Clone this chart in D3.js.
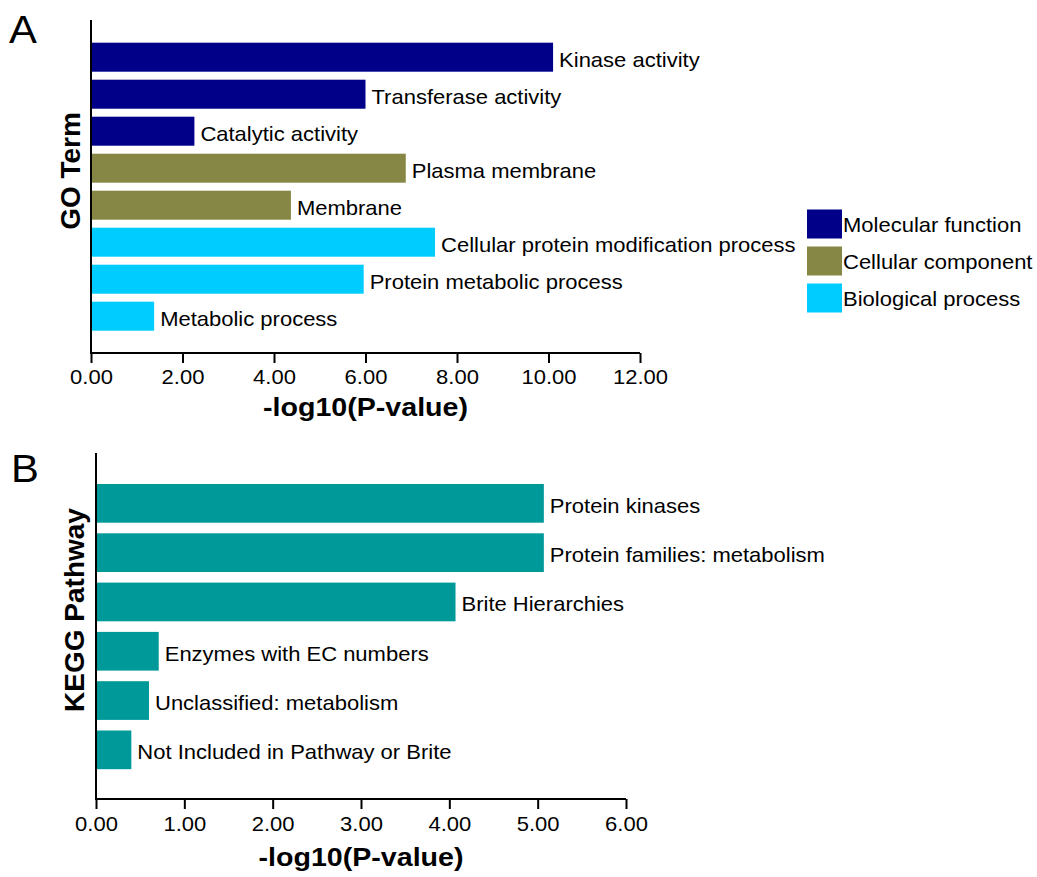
<!DOCTYPE html>
<html>
<head>
<meta charset="utf-8">
<script src="https://cdn.jsdelivr.net/npm/d3@7"></script>
<style>
  html, body { margin: 0; padding: 0; background: #fff; }
  svg { display: block; }
  text { font-family: "Liberation Sans", Arial, Helvetica, sans-serif; fill: #000; }
</style>
</head>
<body>
<svg id="chart" width="1037" height="877"></svg>
<script>
// GO enrichment terms (panel A)
const goTerms = [
  "Kinase activity",
  "Transferase activity",
  "Catalytic activity",
  "Plasma membrane",
  "Membrane",
  "Cellular protein modification process",
  "Protein metabolic process",
  "Metabolic process"
];
const goValues = [10.10, 6.00, 2.26, 6.88, 4.37, 7.52, 5.96, 1.38];
const goCategory = [
  "Molecular function", "Molecular function", "Molecular function",
  "Cellular component", "Cellular component",
  "Biological process", "Biological process", "Biological process"
];
const goCategories = ["Molecular function", "Cellular component", "Biological process"];
const goColors = ["#000088", "#878745", "#00CCFF"];
const goTicks = [0, 2, 4, 6, 8, 10, 12];

// KEGG pathways (panel B)
const keggTerms = [
  "Protein kinases",
  "Protein families: metabolism",
  "Brite Hierarchies",
  "Enzymes with EC numbers",
  "Unclassified: metabolism",
  "Not Included in Pathway or Brite"
];
const keggValues = [5.07, 5.07, 4.07, 0.71, 0.60, 0.40];
const keggColor = "#009999";
const keggTicks = [0, 1, 2, 3, 4, 5, 6];

const xTitle = "-log10(P-value)";
const SX = 1.1; // horizontal text stretch

const svg = d3.select("#chart");

function panel(opts) {
  const g = svg.append("g");
  const x = d3.scaleLinear().domain(opts.domain).range([opts.left, opts.right]);
  const y = d3.scaleBand().domain(opts.terms)
    .range([opts.bandTop, opts.bandBottom])
    .paddingInner(opts.pad).paddingOuter(opts.pad / 2);

  // bars
  g.selectAll("rect.bar").data(opts.terms).join("rect")
    .attr("class", "bar")
    .attr("x", x(0))
    .attr("y", d => y(d))
    .attr("width", (d, i) => x(opts.values[i]) - x(0))
    .attr("height", y.bandwidth())
    .attr("fill", (d, i) => opts.color(i));

  // bar labels
  g.selectAll("text.lbl").data(opts.terms).join("text")
    .attr("class", "lbl")
    .attr("transform", (d, i) =>
      `translate(${x(opts.values[i]) + 6},${y(d) + y.bandwidth() / 2 + opts.lblShift}) scale(${SX},1)`)
    .style("font-size", "20px")
    .text(d => d);

  // x axis
  const ax = g.append("g")
    .attr("transform", `translate(0,${opts.axisY})`)
    .call(d3.axisBottom(x).tickValues(opts.ticks).tickFormat(d3.format(".2f"))
      .tickSize(10).tickSizeOuter(0));
  ax.select(".domain").attr("stroke", "#000").attr("stroke-width", 2)
    .attr("d", `M${x(opts.domain[0])},0H${x(opts.domain[1])}`);
  ax.selectAll(".tick line").attr("stroke", "#000").attr("stroke-width", 2);
  ax.selectAll(".tick text")
    .attr("y", opts.tickTextY).attr("dy", 0)
    .attr("transform", `scale(${SX},1)`)
    .style("font-size", "20px")
    .style("font-family", "\"Liberation Sans\", Arial, sans-serif")
    .attr("fill", "#000");

  // y axis line
  g.append("line")
    .attr("x1", x(0)).attr("x2", x(0))
    .attr("y1", opts.axisTop).attr("y2", opts.axisY + 1)
    .attr("stroke", "#000").attr("stroke-width", 2);

  // x title
  g.append("text")
    .attr("transform", `translate(${(opts.left + opts.right) / 2},${opts.xTitleY}) scale(${SX},1)`)
    .attr("text-anchor", "middle")
    .style("font-size", "26px").style("font-weight", "bold")
    .text(xTitle);

  // y title
  g.append("text")
    .attr("transform", `translate(${opts.yTitleX},${opts.yTitleY}) rotate(-90)`)
    .attr("text-anchor", "middle")
    .style("font-size", "28px").style("font-weight", "bold")
    .text(opts.yTitle);

  // panel letter
  g.append("text")
    .attr("transform", `translate(${opts.letterX},${opts.letterY}) scale(${SX},1)`)
    .style("font-size", "38px")
    .text(opts.letter);

  return g;
}

const catColor = d3.scaleOrdinal().domain(goCategories).range(goColors);

panel({
  terms: goTerms, values: goValues,
  color: i => catColor(goCategory[i]),
  domain: [0, 12], ticks: goTicks,
  left: 91, right: 640,
  bandTop: 38.7, bandBottom: 334.7, pad: 0.216,
  axisY: 353, axisTop: 20, tickTextY: 31,
  lblShift: 9.5,
  xTitleY: 416, yTitle: "GO Term", yTitleX: 80, yTitleY: 171,
  letter: "A", letterX: 9, letterY: 43
});

panel({
  terms: keggTerms, values: keggValues,
  color: () => keggColor,
  domain: [0, 6], ticks: keggTicks,
  left: 96, right: 626,
  bandTop: 478.7, bandBottom: 774.5, pad: 0.215,
  axisY: 799, axisTop: 453, tickTextY: 32,
  lblShift: 9.5,
  xTitleY: 866, yTitle: "KEGG Pathway", yTitleX: 84, yTitleY: 610,
  letter: "B", letterX: 11, letterY: 482
});

// legend for GO categories
const legend = svg.append("g");
const legY = d3.scaleBand().domain(goCategories).range([205.5, 316.5]).paddingInner(0.216).paddingOuter(0.108);
legend.selectAll("rect").data(goCategories).join("rect")
  .attr("x", 807).attr("y", d => legY(d))
  .attr("width", 35).attr("height", legY.bandwidth())
  .attr("fill", d => catColor(d));
legend.selectAll("text").data(goCategories).join("text")
  .attr("transform", d => `translate(843,${legY(d) + legY.bandwidth() / 2 + 8}) scale(${SX},1)`)
  .style("font-size", "20px")
  .text(d => d);
</script>
</body>
</html>
